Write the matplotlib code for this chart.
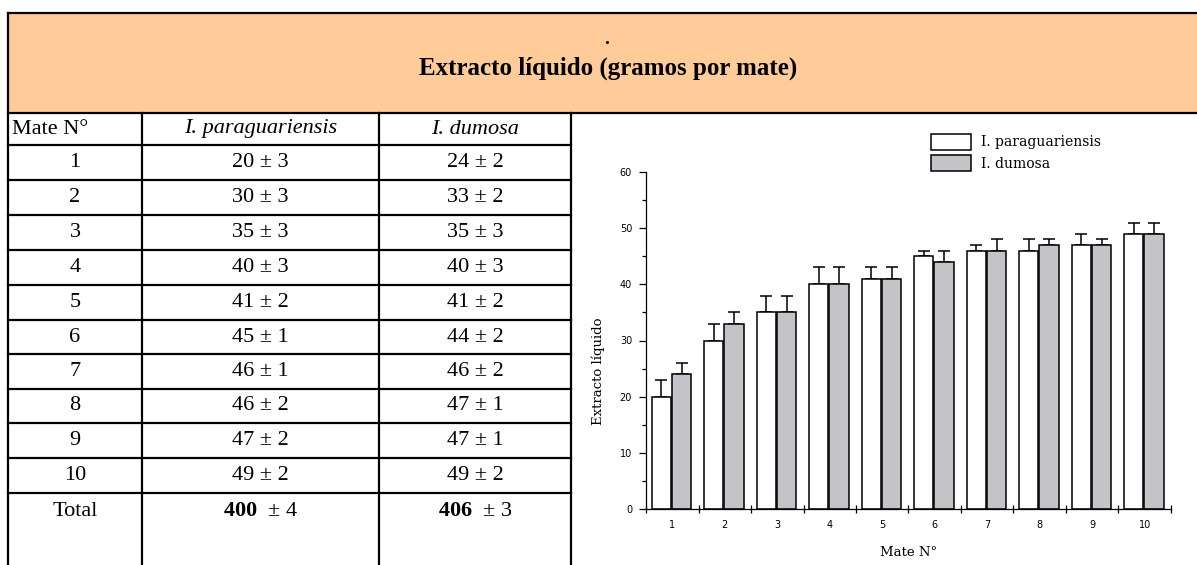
import matplotlib
matplotlib.use("Agg")
import matplotlib.pyplot as plt
from matplotlib.patches import Patch, Rectangle
import numpy as np

# data
mates = [1, 2, 3, 4, 5, 6, 7, 8, 9, 10]
parag = [20, 30, 35, 40, 41, 45, 46, 46, 47, 49]
parag_err = [3, 3, 3, 3, 2, 1, 1, 2, 2, 2]
dumosa = [24, 33, 35, 40, 41, 44, 46, 47, 47, 49]
dumosa_err = [2, 2, 3, 3, 2, 2, 2, 1, 1, 2]
totals = [400, 406]
totals_err = [4, 3]

title = "Extracto líquido (gramos por mate)"
col_headers = ["Mate N°", "I. paraguariensis", "I. dumosa"]
series_names = ["I. paraguariensis", "I. dumosa"]

W, H = 1197, 565
plt.rcParams["mathtext.fontset"] = "custom"
plt.rcParams["mathtext.rm"] = "Liberation Serif"
plt.rcParams["mathtext.bf"] = "Liberation Serif:bold"

fig = plt.figure(figsize=(W / 100, H / 100), dpi=100)
fig.patch.set_facecolor("white")

# background axes in pixel coordinates for the table frame
bg = fig.add_axes([0, 0, 1, 1])
bg.set_xlim(0, W)
bg.set_ylim(H, 0)
bg.axis("off")

orange = "#ffcc99"
lw = 1.6
left, right, top, band_bot = 8, W, 13, 113
col_x = [142, 379, 571]
row_y = [145, 180, 215, 250, 285, 320, 354, 389, 423, 458, 493]

bg.add_patch(Rectangle((left, top), right - left, band_bot - top,
                       facecolor=orange, edgecolor="none"))
bg.plot([left, right], [top, top], color="black", lw=lw)
bg.plot([left, right], [band_bot, band_bot], color="black", lw=lw)
bg.plot([left, left], [top, H], color="black", lw=lw)
for x in col_x:
    bg.plot([x, x], [band_bot, H], color="black", lw=lw)
for y in row_y:
    bg.plot([left, col_x[-1]], [y, y], color="black", lw=lw)

bg.text(607, 40, ".", ha="center", va="center", fontsize=14,
        fontweight="bold", family="Liberation Serif")
bg.text(608, 68, title, ha="center", va="center", fontsize=18,
        fontweight="bold", family="Liberation Serif")

tfs = 16
hy = (band_bot + row_y[0]) / 2
bg.text(12, hy, col_headers[0], ha="left", va="center", fontsize=tfs,
        family="Liberation Serif")
c1 = (left + col_x[0]) / 2
c2 = (col_x[0] + col_x[1]) / 2
c3 = (col_x[1] + col_x[2]) / 2
bg.text(c2, hy, col_headers[1], ha="center", va="center", fontsize=tfs,
        family="Liberation Serif", style="italic")
bg.text(c3, hy, col_headers[2], ha="center", va="center", fontsize=tfs,
        family="Liberation Serif", style="italic")

for i, m in enumerate(mates):
    cy = (row_y[i] + row_y[i + 1]) / 2
    bg.text(c1, cy, str(m), ha="center", va="center", fontsize=tfs,
            family="Liberation Serif")
    bg.text(c2, cy, f"{parag[i]} ± {parag_err[i]}", ha="center", va="center",
            fontsize=tfs, family="Liberation Serif")
    bg.text(c3, cy, f"{dumosa[i]} ± {dumosa_err[i]}", ha="center", va="center",
            fontsize=tfs, family="Liberation Serif")

ty = 511
bg.text(c1, ty, "Total", ha="center", va="center", fontsize=tfs,
        family="Liberation Serif")
for cx, t, e in zip([c2, c3], totals, totals_err):
    bg.text(cx, ty, r"$\mathbf{%d}$  ± %d" % (t, e), ha="center", va="center",
            fontsize=tfs, family="Liberation Serif")

# bar chart
ax_l, ax_r, ax_y0, ax_y60 = 646, 1171, 509, 172
ax = fig.add_axes([ax_l / W, (H - ax_y0) / H, (ax_r - ax_l) / W, (ax_y0 - ax_y60) / H])
ax.patch.set_alpha(0)

grey = "#c4c3c8"
x = np.array(mates) - 1
bw = 0.37
xw = x + 0.29
xg = x + 0.68
ax.bar(xw, parag, width=bw, color="white", edgecolor="black", linewidth=1.1, zorder=2)
ax.bar(xg, dumosa, width=bw, color=grey, edgecolor="black", linewidth=1.1, zorder=2)
ax.errorbar(xw, parag, yerr=[np.zeros(len(parag)), parag_err], fmt="none",
            ecolor="black", elinewidth=1.1, capsize=4.2, capthick=1.1, zorder=1)
ax.errorbar(xg, dumosa, yerr=[np.zeros(len(dumosa)), dumosa_err], fmt="none",
            ecolor="black", elinewidth=1.1, capsize=4.2, capthick=1.1, zorder=1)

ax.set_xlim(0, 10)
ax.set_ylim(0, 60)
for s in ["top", "right"]:
    ax.spines[s].set_visible(False)
for s in ["left", "bottom"]:
    ax.spines[s].set_linewidth(0.9)

ax.set_yticks(range(0, 61, 10))
ax.set_yticks(range(5, 60, 10), minor=True)
ax.tick_params(axis="y", which="major", direction="out", length=5, width=0.9,
               labelsize=7, pad=5)
ax.tick_params(axis="y", which="minor", direction="out", length=3, width=0.9)

ax.set_xticks(range(0, 11))
ax.set_xticklabels([])
ax.set_xticks(x + 0.5, minor=True)
ax.set_xticklabels([str(m) for m in mates], minor=True)
ax.tick_params(axis="x", which="major", direction="inout", length=6, width=0.9)
ax.tick_params(axis="x", which="minor", length=0, labelsize=7, pad=8)

ax.set_ylabel("Extracto líquido", family="DejaVu Serif", fontsize=9.5)
ax.yaxis.set_label_coords(-0.078, 0.41)
ax.set_xlabel("Mate N°", family="DejaVu Serif", fontsize=9.5)
ax.xaxis.set_label_coords(0.5, -0.11)

handles = [Patch(facecolor="white", edgecolor="black", linewidth=1.1),
           Patch(facecolor=grey, edgecolor="black", linewidth=1.1)]
fig.legend(handles, series_names, loc="upper left",
           bbox_to_anchor=(931 / W, 1 - 134 / H), frameon=False,
           prop={"family": "DejaVu Serif", "size": 10},
           handlelength=2.9, handleheight=1.35, handletextpad=0.7,
           labelspacing=0.4, borderpad=0, borderaxespad=0)

fig.savefig("out.png", dpi=100)
